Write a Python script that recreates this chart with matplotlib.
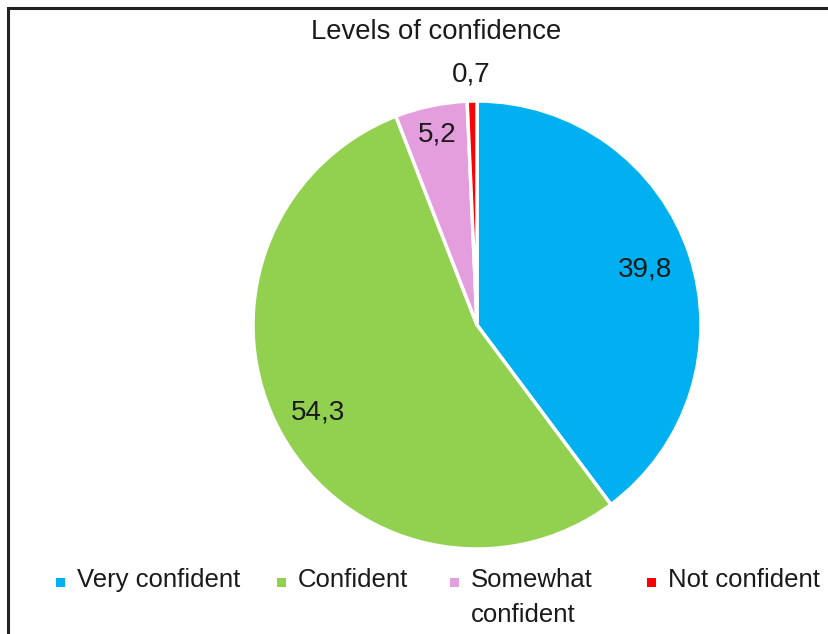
import matplotlib
matplotlib.use("Agg")
import matplotlib.pyplot as plt
from matplotlib.patches import Rectangle
import numpy as np

categories = ["Very confident", "Confident", "Somewhat\nconfident", "Not confident"]
values = [39.8, 54.3, 5.2, 0.7]
colors = ["#00B0F0", "#92D050", "#E49EDD", "#FF0000"]
value_labels = ["39,8", "54,3", "5,2", "0,7"]
label_radius = [0.79, 0.81, 0.87, 1.12]

W, H = 829, 634
fig = plt.figure(figsize=(W / 100, H / 100), dpi=100)
fig.patch.set_facecolor("white")

text_font = ["Liberation Sans", "DejaVu Sans"]
text_color = "#1a1a1a"

# outer frame (top and left edges visible)
fig.add_artist(Rectangle((8.5 / W, -0.1), 1.2, (634 - 8) / H + 0.1,
                         transform=fig.transFigure, fill=False,
                         edgecolor="#222222", linewidth=2.2))

# pie axes: centre (477, 325) px, radius 224 px
cx, cy, r = 477, 325, 224
ax = fig.add_axes([(cx - r) / W, (H - cy - r) / H, 2 * r / W, 2 * r / H])
wedges, _ = ax.pie(values, colors=colors, startangle=90, counterclock=False,
                   radius=1.0,
                   wedgeprops=dict(edgecolor="white", linewidth=2.5))
ax.set_xlim(-1, 1)
ax.set_ylim(-1, 1)
ax.set_aspect("equal")
ax.axis("off")

for w, lab, rd in zip(wedges, value_labels, label_radius):
    ang = np.deg2rad((w.theta1 + w.theta2) / 2)
    ax.text(rd * np.cos(ang), rd * np.sin(ang), lab, ha="center", va="center",
            fontsize=20, family=text_font, color=text_color)

fig.text(436 / W, 1 - 32 / H, "Levels of confidence", ha="center", va="center",
         fontsize=19.8, family=text_font, color=text_color)

# legend
leg_x = [56, 277, 450, 647]
leg_y = 582
for x, lab, c in zip(leg_x, categories, colors):
    fig.add_artist(Rectangle((x / W, (H - leg_y - 4.5) / H), 9 / W, 9 / H,
                             transform=fig.transFigure, facecolor=c,
                             edgecolor="none"))
    fig.text((x + 21) / W, 1 - (leg_y - 14) / H, lab, ha="left", va="top",
             fontsize=18.5, family=text_font, color=text_color,
             linespacing=1.6)

fig.savefig("out.png", dpi=100, facecolor="white")
